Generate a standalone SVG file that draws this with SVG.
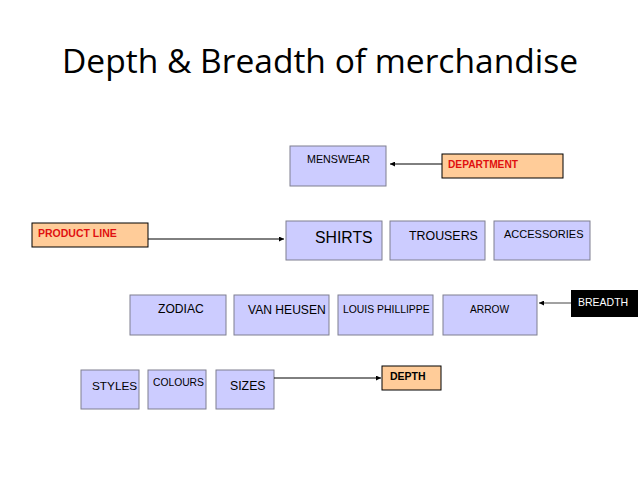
<svg xmlns="http://www.w3.org/2000/svg" width="638" height="479" viewBox="0 0 638 479">
<defs>
<style>
.b{fill:#ccccff;stroke:#7f7f8f;stroke-width:1}
.o{fill:#ffcc99;stroke:#000;stroke-width:1}
.t{font-family:"Liberation Sans",Arial,sans-serif;fill:#000}
.r{font-family:"Liberation Sans",Arial,sans-serif;font-weight:bold;fill:#e01010}
.c{stroke:#000;stroke-width:1;fill:none;marker-end:url(#ah)}
</style>
<marker id="ah" viewBox="0 0 10 10" refX="10" refY="5" markerWidth="6" markerHeight="5" markerUnits="userSpaceOnUse" orient="auto">
<path d="M0,0 L10,5 L0,10 z" fill="#000"/>
</marker>
</defs>
<rect width="638" height="479" fill="#fff"/>
<text x="62" y="73" font-family="'Open Sans','DejaVu Sans',sans-serif" font-size="33" textLength="516" lengthAdjust="spacingAndGlyphs" fill="#000">Depth &amp; Breadth of merchandise</text>

<g id="menswear"><rect class="b" x="290" y="146" width="96" height="40"/><text class="t" x="307" y="163" font-size="10.7">MENSWEAR</text></g>
<g id="department"><rect class="o" x="442" y="154" width="121" height="24"/><text class="r" x="448" y="168" font-size="10.2">DEPARTMENT</text></g>
<g id="productline"><rect class="o" x="32" y="223" width="116" height="24"/><text class="r" x="38" y="237" font-size="10.5">PRODUCT LINE</text></g>
<g id="shirts"><rect class="b" x="286" y="221" width="96" height="39"/><text class="t" x="315" y="243" font-size="15.8">SHIRTS</text></g>
<g id="trousers"><rect class="b" x="390" y="221" width="95" height="39"/><text class="t" x="409" y="240" font-size="12.4">TROUSERS</text></g>
<g id="accessories"><rect class="b" x="494" y="221" width="96" height="39"/><text class="t" x="504" y="238" font-size="11">ACCESSORIES</text></g>
<g id="zodiac"><rect class="b" x="130" y="295" width="96" height="40"/><text class="t" x="158" y="313" font-size="12.1">ZODIAC</text></g>
<g id="vanheusen"><rect class="b" x="234" y="295" width="95" height="40"/><text class="t" x="248" y="314" font-size="12.1">VAN HEUSEN</text></g>
<g id="louisphillippe"><rect class="b" x="338" y="295" width="95" height="40"/><text class="t" x="343" y="313" font-size="10.4">LOUIS PHILLIPPE</text></g>
<g id="arrow"><rect class="b" x="443" y="295" width="94" height="40"/><text class="t" x="470" y="313" font-size="10.2">ARROW</text></g>
<g id="breadth"><rect x="571" y="290" width="67" height="27" fill="#000"/><text class="t" x="578" y="306" font-size="10.5" fill="#fff" style="fill:#fff">BREADTH</text></g>
<g id="styles"><rect class="b" x="81" y="370" width="58" height="39"/><text class="t" x="92" y="390" font-size="11.8">STYLES</text></g>
<g id="colours"><rect class="b" x="148" y="370" width="58" height="39"/><text class="t" x="153" y="386" font-size="10.3">COLOURS</text></g>
<g id="sizes"><rect class="b" x="216" y="370" width="58" height="39"/><text class="t" x="230" y="390" font-size="12.3">SIZES</text></g>
<g id="depth"><rect class="o" x="382" y="366" width="59" height="24"/><text class="t" x="390" y="380" font-size="10.5" font-weight="bold">DEPTH</text></g>

<g id="connectors">
<line class="c" x1="442" y1="164" x2="390" y2="164"/>
<line class="c" x1="148" y1="239" x2="284" y2="239"/>
<line class="c" x1="571" y1="303" x2="539" y2="303" style="stroke:#444"/>
<line class="c" x1="274" y1="378" x2="381" y2="378"/>
</g>
</svg>
